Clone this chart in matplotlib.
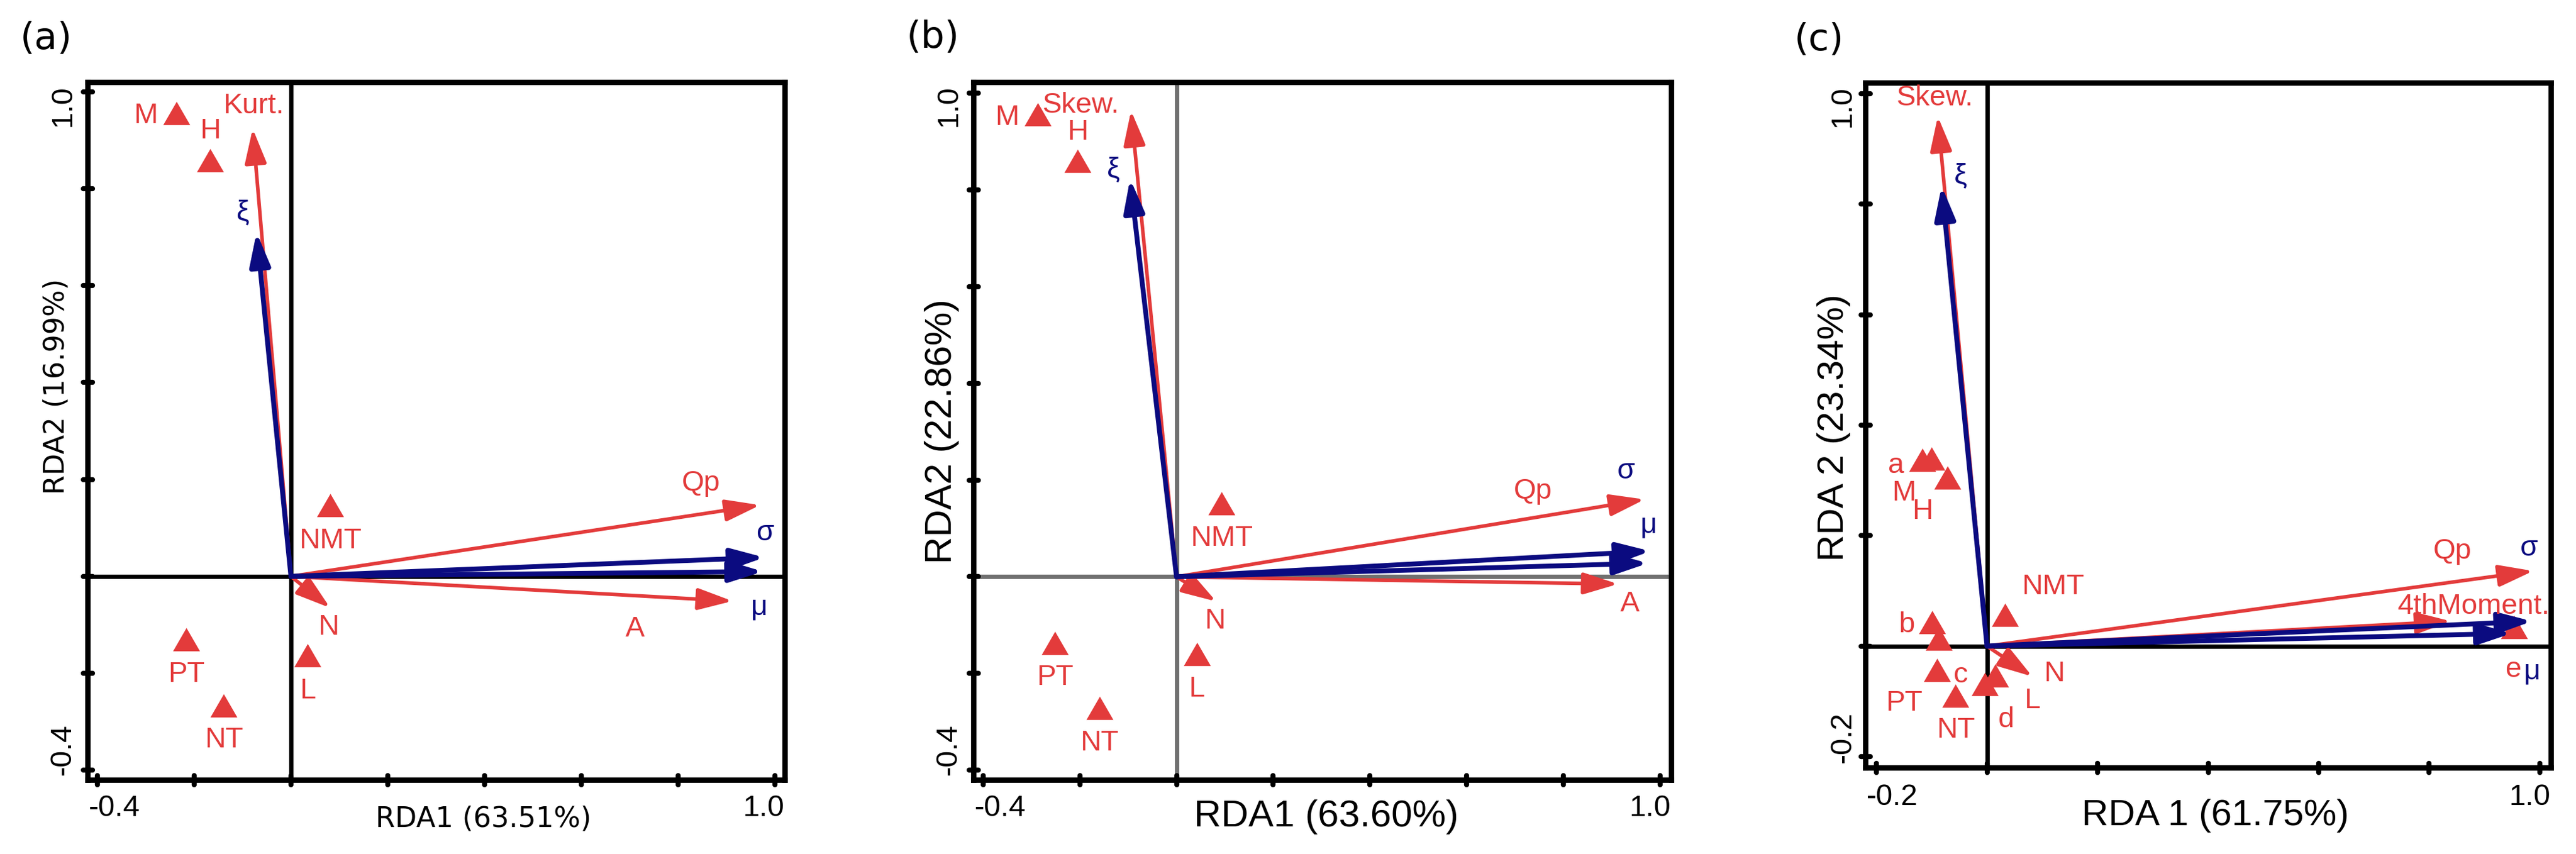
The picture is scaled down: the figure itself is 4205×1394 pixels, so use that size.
import matplotlib
matplotlib.use("Agg")  # headless
import matplotlib.pyplot as plt  # noqa: E402
from matplotlib.markers import MarkerStyle  # noqa: E402
from matplotlib.patches import FancyArrowPatch  # noqa: E402

plt.rcParams["font.family"] = ["Liberation Sans", "DejaVu Sans"]

RED = "#E33B3B"
NAVY = "#0B0B80"
GREY = "#707070"

# ---------------------------------------------------------------- panel (a)
A_SITE_NAMES = ["M", "H", "NMT", "PT", "NT", "L"]
A_SITE_X = [-0.236, -0.167, 0.081, -0.216, -0.139, 0.034]
A_SITE_Y = [0.948, 0.850, 0.139, -0.138, -0.275, -0.171]
A_SITE_LX = [-0.300, -0.167, 0.081, -0.216, -0.139, 0.034]
A_SITE_LY = [0.951, 0.919, 0.073, -0.203, -0.338, -0.237]

A_RED_NAMES = ["Kurt.", "Qp", "A", "N"]
A_RED_X = [-0.079, 0.969, 0.912, 0.081]
A_RED_Y = [0.924, 0.147, -0.051, -0.065]
A_RED_LX = [-0.077, 0.847, 0.711, 0.078]
A_RED_LY = [0.971, 0.192, -0.109, -0.105]

A_BLUE_NAMES = ["ξ", "σ", "μ"]
A_BLUE_X = [-0.071, 0.978, 0.975]
A_BLUE_Y = [0.710, 0.039, 0.010]
A_BLUE_LX = [-0.099, 0.980, 0.967]
A_BLUE_LY = [0.750, 0.090, -0.064]

# ---------------------------------------------------------------- panel (b)
B_SITE_NAMES = ["M", "H", "NMT", "PT", "NT", "L"]
B_SITE_X = [-0.287, -0.204, 0.093, -0.251, -0.159, 0.042]
B_SITE_Y = [0.948, 0.852, 0.144, -0.145, -0.280, -0.168]
B_SITE_LX = [-0.351, -0.204, 0.093, -0.251, -0.159, 0.042]
B_SITE_LY = [0.950, 0.919, 0.079, -0.209, -0.344, -0.233]

B_RED_NAMES = ["Skew.", "Qp", "A", "N"]
B_RED_X = [-0.094, 0.968, 0.913, 0.082]
B_RED_Y = [0.964, 0.160, -0.015, -0.051]
B_RED_LX = [-0.198, 0.737, 0.938, 0.079]
B_RED_LY = [0.975, 0.177, -0.056, -0.092]

B_BLUE_NAMES = ["ξ", "σ", "μ"]
B_BLUE_X = [-0.096, 0.980, 0.975]
B_BLUE_Y = [0.823, 0.053, 0.028]
B_BLUE_LX = [-0.130, 0.930, 0.977]
B_BLUE_LY = [0.842, 0.218, 0.107]

# ---------------------------------------------------------------- panel (c)
C_SITE_NAMES = ["a", "M", "H", "b", "c", "PT", "NT", "d", "L", "NMT", "e"]
C_SITE_X = [-0.117, -0.100, -0.072, -0.099, -0.087, -0.090, -0.057, -0.004, 0.015, 0.033, 0.953]
C_SITE_Y = [0.330, 0.332, 0.298, 0.036, 0.006, -0.050, -0.097, -0.076, -0.060, 0.050, 0.027]
C_SITE_LX = [-0.164, -0.150, -0.117, -0.146, -0.047, -0.150, -0.056, 0.035, 0.082, 0.119, 0.953]
C_SITE_LY = [0.327, 0.277, 0.244, 0.038, -0.053, -0.104, -0.152, -0.133, -0.099, 0.107, -0.042]

C_RED_NAMES = ["Skew.", "Qp", "4thMoment.", "N"]
C_RED_X = [-0.089, 0.988, 0.839, 0.082]
C_RED_Y = [0.959, 0.136, 0.045, -0.055]
C_RED_LX = [-0.094, 0.842, 0.881, 0.121]
C_RED_LY = [0.992, 0.171, 0.072, -0.050]

C_BLUE_NAMES = ["ξ", "σ", "μ"]
C_BLUE_X = [-0.082, 0.986, 0.949]
C_BLUE_Y = [0.833, 0.045, 0.023]
C_BLUE_LX = [-0.048, 0.981, 0.986]
C_BLUE_LY = [0.851, 0.177, -0.046]

# axes ticks / labels
TICKS_AB = [-0.4, -0.2, 0.0, 0.2, 0.4, 0.6, 0.8, 1.0]
TICKS_C = [-0.2, 0.0, 0.2, 0.4, 0.6, 0.8, 1.0]
END_LABELS_AB = ["-0.4", "1.0"]
END_LABELS_C = ["-0.2", "1.0"]
XLABELS = ["RDA1 (63.51%)", "RDA1 (63.60%)", "RDA 1 (61.75%)"]
YLABELS = ["RDA2 (16.99%)", "RDA2 (22.86%)", "RDA 2 (23.34%)"]
PANEL_TAGS = ["(a)", "(b)", "(c)"]

W_PX, H_PX, DPI = 4205, 1394, 300


def box(x0, x1, y0, y1):
    # pixel box -> figure fraction
    return [x0 / W_PX, 1 - y1 / H_PX, (x1 - x0) / W_PX, (y1 - y0) / H_PX]


def arrow(ax, x, y, col, lw, hl, hw):
    ax.add_patch(FancyArrowPatch(
        (0, 0), (x, y),
        arrowstyle=f"-|>,head_length={hl},head_width={hw}",
        mutation_scale=1, color=col, lw=lw, shrinkA=0, shrinkB=0,
        joinstyle="round", capstyle="round", zorder=4))


def panel(ax, lim, ticks, zero_col, sites, red, blue):
    ax.set_xlim(*lim)
    ax.set_ylim(*lim)
    ax.set_xticks([])
    ax.set_yticks([])
    for s in ax.spines.values():
        s.set_linewidth(2.1)

    # R-style rounded tick marks straddling the box
    ax.plot(ticks, [lim[0]] * len(ticks), linestyle="none",
            marker=MarkerStyle("|", capstyle="round"), ms=3.6, mew=2.0,
            color="black", clip_on=False, zorder=7)
    ax.plot([lim[0]] * len(ticks), ticks, linestyle="none",
            marker=MarkerStyle("_", capstyle="round"), ms=3.6, mew=2.0,
            color="black", clip_on=False, zorder=7)

    ax.axhline(0, color=zero_col, lw=1.7, zorder=1)
    ax.axvline(0, color=zero_col, lw=1.7, zorder=1)

    names, sx, sy, lx, ly = sites
    ax.plot(sx, sy, linestyle="none", marker=(3, 0, 0), ms=12.2,
            mew=0, color=RED, zorder=2)
    for n, x, y in zip(names, lx, ly):
        ax.text(x, y, n, color=RED, fontsize=11.3, ha="center", va="center", zorder=6)

    names, ex, ey, lx, ly = red
    for x, y in zip(ex, ey):
        arrow(ax, x, y, RED, 1.4, 11.5, 3.6)
    for n, x, y in zip(names, lx, ly):
        ax.text(x, y, n, color=RED, fontsize=11.3, ha="center", va="center", zorder=6)

    names, ex, ey, lx, ly = blue
    for x, y in zip(ex, ey):
        arrow(ax, x, y, NAVY, 1.9, 11.0, 3.4)
    for n, x, y in zip(names, lx, ly):
        ax.text(x, y, n, color=NAVY, fontsize=11.3, ha="center", va="center", zorder=6)


def end_ticklabels(ax, labels, xbase, ybase):
    ax.text(0.002, ybase, labels[0], transform=ax.transAxes, fontsize=11.7,
            ha="left", va="baseline")
    ax.text(0.999, ybase, labels[1], transform=ax.transAxes, fontsize=11.7,
            ha="right", va="baseline")
    ax.text(xbase, 0.007, labels[0], transform=ax.transAxes, fontsize=11.7,
            rotation=90, rotation_mode="anchor", ha="left", va="baseline")
    ax.text(xbase, 0.995, labels[1], transform=ax.transAxes, fontsize=11.7,
            rotation=90, rotation_mode="anchor", ha="right", va="baseline")


def main():
    fig = plt.figure(figsize=(W_PX / DPI, H_PX / DPI), dpi=DPI)

    ax_a = fig.add_axes(box(143, 1281, 134, 1273))
    ax_b = fig.add_axes(box(1589, 2728, 134, 1273))
    ax_c = fig.add_axes(box(3045, 4164, 135, 1253))

    panel(ax_a, (-0.42, 1.02), TICKS_AB, "black",
          (A_SITE_NAMES, A_SITE_X, A_SITE_Y, A_SITE_LX, A_SITE_LY),
          (A_RED_NAMES, A_RED_X, A_RED_Y, A_RED_LX, A_RED_LY),
          (A_BLUE_NAMES, A_BLUE_X, A_BLUE_Y, A_BLUE_LX, A_BLUE_LY))
    panel(ax_b, (-0.42, 1.023), TICKS_AB, GREY,
          (B_SITE_NAMES, B_SITE_X, B_SITE_Y, B_SITE_LX, B_SITE_LY),
          (B_RED_NAMES, B_RED_X, B_RED_Y, B_RED_LX, B_RED_LY),
          (B_BLUE_NAMES, B_BLUE_X, B_BLUE_Y, B_BLUE_LX, B_BLUE_LY))
    panel(ax_c, (-0.22, 1.02), TICKS_C, "black",
          (C_SITE_NAMES, C_SITE_X, C_SITE_Y, C_SITE_LX, C_SITE_LY),
          (C_RED_NAMES, C_RED_X, C_RED_Y, C_RED_LX, C_RED_LY),
          (C_BLUE_NAMES, C_BLUE_X, C_BLUE_Y, C_BLUE_LX, C_BLUE_LY))

    end_ticklabels(ax_a, END_LABELS_AB, -0.0246, -0.052)
    end_ticklabels(ax_b, END_LABELS_AB, -0.0246, -0.052)
    end_ticklabels(ax_c, END_LABELS_C, -0.022, -0.055)

    # axis titles: (a) in a Verdana-like face, (b)/(c) in Arial-like
    ax_a.text(0.568, -0.067, XLABELS[0], transform=ax_a.transAxes, fontsize=11,
              family="DejaVu Sans", ha="center", va="baseline")
    ax_a.text(-0.045, 0.564, YLABELS[0], transform=ax_a.transAxes, fontsize=11,
              family="DejaVu Sans", rotation=90, ha="center", va="center")
    ax_b.text(0.506, -0.067, XLABELS[1], transform=ax_b.transAxes, fontsize=14.8,
              ha="center", va="baseline")
    ax_b.text(-0.045, 0.5, YLABELS[1], transform=ax_b.transAxes, fontsize=14.8,
              rotation=90, ha="center", va="center")
    ax_c.text(0.51, -0.084, XLABELS[2], transform=ax_c.transAxes, fontsize=14.5,
              ha="center", va="baseline")
    ax_c.text(-0.046, 0.496, YLABELS[2], transform=ax_c.transAxes, fontsize=14.5,
              rotation=90, ha="center", va="center")

    for tag, x, y in zip(PANEL_TAGS, [33, 1480, 2929], [64, 62, 66]):
        fig.text(x / W_PX, 1 - y / H_PX, tag, fontsize=14.7, family="DejaVu Sans",
                 ha="left", va="center")

    fig.savefig("out.png", dpi=DPI)
    plt.close(fig)


if __name__ == "__main__":
    main()
